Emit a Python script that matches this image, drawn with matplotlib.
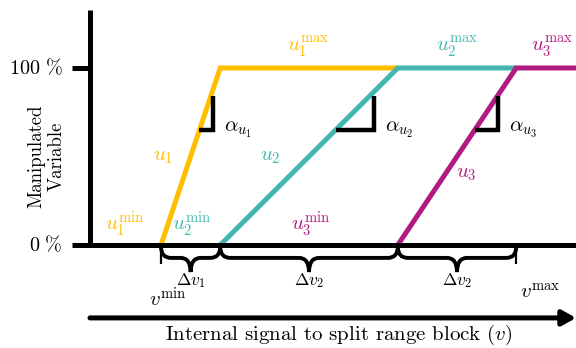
import numpy as np
import matplotlib.pyplot as plt
from matplotlib.path import Path
from matplotlib.patches import PathPatch

plt.rcParams['mathtext.fontset'] = 'cm'
plt.rcParams['font.family'] = 'cmr10'
plt.rcParams['axes.formatter.use_mathtext'] = True

# split range data: v breakpoints and output in %
v_start = [0, 1, 4]
v_full = [1, 4, 6]
v_end = [4, 6, 7.2]
colors = ['#FFBE00', '#43B7AD', '#B01B7F']
names = ['u_1', 'u_2', 'u_3']
alpha_corner = [0.88, 3.60, 5.70]
brace_edges = [0, 1, 4, 6]
brace_labels = [r'$\Delta v_1$', r'$\Delta v_2$', r'$\Delta v_2$']

fig = plt.figure(figsize=(5.76, 3.48), dpi=100)
ax = fig.add_axes([0, 0, 1, 1])
ax.set_xlim(-2.72, 7.01)
ax.set_ylim(-58.2, 138.4)
ax.axis('off')

fs = 15

# curves
for i in range(3):
    ax.plot([v_start[i], v_full[i], v_end[i]], [0, 100, 100], color=colors[i],
            lw=3.6, solid_capstyle='butt', solid_joinstyle='miter', zorder=2)

# axes
ax.plot([-1.20, -1.20], [-1.2, 132.8], color='k', lw=3.6, solid_capstyle='butt', zorder=3)
ax.plot([-1.23, 7.2], [0, 0], color='k', lw=3.6, solid_capstyle='butt', zorder=3)
for yv, lab in [(0, r'$0\ \%$'), (100, r'$100\ \%$')]:
    ax.plot([-1.50, -1.20], [yv, yv], color='k', lw=3.6, solid_capstyle='butt', zorder=3)
    ax.text(-1.66, yv, lab, ha='right', va='center', fontsize=14.5)
ax.text(-1.93, 50, 'Manipulated\nVariable', rotation=90, ha='center', va='center',
        fontsize=13.5, linespacing=1.15)

# slope markers
for i in range(3):
    slope = 100 / (v_full[i] - v_start[i])
    x_left = v_start[i] + 65 / slope
    ax.plot([x_left, alpha_corner[i], alpha_corner[i]], [65, 65, 84], color='k', lw=3.2,
            solid_joinstyle='miter', solid_capstyle='butt', zorder=4)
    ax.text(alpha_corner[i] + 0.18, 65, r'$\alpha_{%s}$' % names[i], ha='left', va='center',
            fontsize=fs)

# curve labels
for i, (x, y) in enumerate([(0.03, 49.7), (1.84, 49.7), (5.15, 40.1)]):
    ax.text(x, y, r'$%s$' % names[i], color=colors[i], ha='center', va='center', fontsize=fs)
for i, (x, y) in enumerate([(2.48, 112), (5.0, 112), (6.61, 112)]):
    ax.text(x, y, r'$%s^{\mathrm{max}}$' % names[i], color=colors[i], ha='center', va='center', fontsize=fs)
for i, (x, y) in enumerate([(-0.61, 11.5), (0.51, 11.5), (2.52, 11.5)]):
    ax.text(x, y, r'$%s^{\mathrm{min}}$' % names[i], color=colors[i], ha='center', va='center', fontsize=fs)


def brace(x0, x1, y_top=-1.0, y_arm=-7.3, y_tip=-15.3, r=0.17):
    xm = (x0 + x1) / 2
    verts = [(x0, y_top), (x0, y_arm), (x0 + r, y_arm), (xm - r, y_arm),
             (xm, y_arm), (xm, y_tip), (xm, y_arm), (xm + r, y_arm),
             (x1 - r, y_arm), (x1, y_arm), (x1, y_top)]
    codes = [Path.MOVETO, Path.CURVE3, Path.CURVE3, Path.LINETO,
             Path.CURVE3, Path.CURVE3, Path.CURVE3, Path.CURVE3,
             Path.LINETO, Path.CURVE3, Path.CURVE3]
    return PathPatch(Path(verts, codes), fill=False, lw=2.8, ec='k', capstyle='butt', zorder=3)


for i in range(3):
    ax.add_patch(brace(brace_edges[i], brace_edges[i + 1]))
    ax.text((brace_edges[i] + brace_edges[i + 1]) / 2, -20, brace_labels[i],
            ha='center', va='center', fontsize=12.5)

# v min / v max ticks
for xv in [brace_edges[0], brace_edges[-1]]:
    ax.plot([xv, xv], [0, -10.7], color='k', lw=1.6, solid_capstyle='butt', zorder=3)
ax.text(0.12, -30.5, r'$v^{\mathrm{min}}$', ha='center', va='center', fontsize=fs)
ax.text(6.4, -27, r'$v^{\mathrm{max}}$', ha='center', va='center', fontsize=fs)

# bottom arrow
ax.annotate('', xy=(7.01, -41.2), xytext=(-1.20, -41.2),
            arrowprops=dict(arrowstyle='-|>,head_length=0.8,head_width=0.45', lw=3.6, color='k',
                            shrinkA=0, shrinkB=0))
ax.text(3.01, -51, r'Internal signal to split range block ($v$)', ha='center', va='center',
        fontsize=fs)

fig.savefig('out.png', dpi=100)
